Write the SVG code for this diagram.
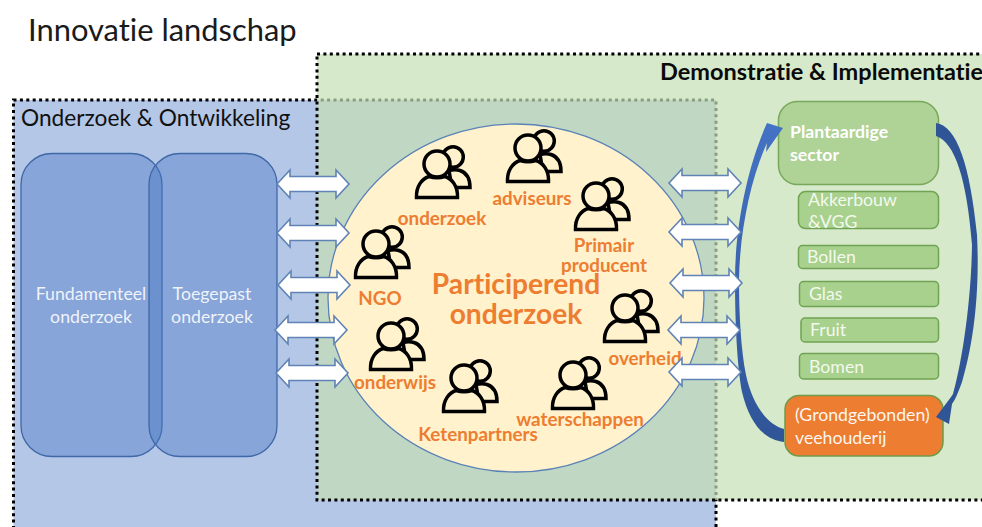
<svg xmlns="http://www.w3.org/2000/svg" xmlns:xlink="http://www.w3.org/1999/xlink" width="982" height="527" viewBox="0 0 982 527">
<style>
text{font-family:Lato,"Open Sans","Liberation Sans",sans-serif;font-variant-ligatures:none}
.zone{stroke:#000;stroke-width:3;stroke-dasharray:3 3.4}
.col{fill:#4472c4;fill-opacity:.4;stroke:#3f68a8;stroke-width:1.3}
.g{fill:#a9d18e;stroke:#70a352;stroke-width:1.5}
.w{fill:#fff;fill-opacity:.88;font-size:17.700px}
.wb{fill:#fff;font-size:17.700px;font-weight:700}
.o{fill:#ed7d31;font-size:18.800px;font-weight:700;text-anchor:middle}
.ic{fill:#fff2cc;stroke:#000;stroke-width:3.500;stroke-linejoin:miter}
.dbl{fill:#fff;stroke:#5f83b5;stroke-width:1.600;stroke-linejoin:miter}
</style>
<defs>
<linearGradient id="lg" gradientUnits="userSpaceOnUse" x1="0" y1="128" x2="0" y2="440"><stop offset="0" stop-color="#4472c4"/><stop offset="1" stop-color="#2f5597"/></linearGradient>
<path id="da" d="M0,0 L13,-14 V-7.500 H59 V-14 L72,0 L59,14 V7.500 H13 V14 Z"/>
<g id="ppl">
<circle cx="16" cy="-7" r="10.300"/>
<path d="M12,6.500 C16,5.500 20,5.500 23,6.500 C29,8.500 33,14 33,23.500 H15 Z"/>
<circle cx="0" cy="0" r="13"/>
<path d="M-20.500,33.500 C-21,22 -15,15 -8,12.500 C-3,14 3,14 8,12.500 C15,15 21,22 20.500,33.500 Z"/>
</g>
</defs>
<rect width="982" height="527" fill="#fff"/>
<text x="28" y="41" fill="#1a1a1a" style="font-size:30.900px">Innovatie landschap</text>
<g id="zone-onderzoek">
<rect class="zone" x="13.500" y="100" width="702.500" height="440" fill="#b4c7e7"/>
<text x="21" y="126" fill="#111" style="font-size:22.700px">Onderzoek &amp; Ontwikkeling</text>
</g>
<g id="zone-demonstratie">
<rect class="zone" x="317" y="54" width="680" height="446" fill="#c5e0b4" fill-opacity=".7"/>
<text x="660" y="80" fill="#0a0a0a" style="font-size:23.500px;font-weight:700">Demonstratie &amp; Implementatie</text>
</g>
<g id="fundamenteel">
<rect class="col" x="21" y="153.500" width="141" height="303" rx="31"/>
<text class="w" x="91" y="300" text-anchor="middle">Fundamenteel</text>
<text class="w" x="91" y="323" text-anchor="middle">onderzoek</text>
</g>
<g id="toegepast">
<rect class="col" x="149" y="153.500" width="128" height="303" rx="31"/>
<text class="w" x="212" y="300" text-anchor="middle">Toegepast</text>
<text class="w" x="212" y="323" text-anchor="middle">onderzoek</text>
</g>
<g id="participerend">
<ellipse cx="516" cy="298" rx="188" ry="174" fill="#fff2cc" stroke="#5b82b8" stroke-width="1.300"/>
<text x="516" y="294" style="font-size:28.200px;font-weight:700;fill:#ed7d31;text-anchor:middle">Participerend</text>
<text x="516" y="324" style="font-size:28.200px;font-weight:700;fill:#ed7d31;text-anchor:middle">onderzoek</text>
</g>
<g id="actor-onderzoek"><use xlink:href="#ppl" class="ic" x="437" y="164"/><text class="o" x="442" y="225">onderzoek</text></g>
<g id="actor-adviseurs"><use xlink:href="#ppl" class="ic" x="528" y="148"/><text class="o" x="532" y="205">adviseurs</text></g>
<g id="actor-primair"><use xlink:href="#ppl" class="ic" x="596" y="196"/><text class="o" x="604" y="252">Primair</text><text class="o" x="604" y="272">producent</text></g>
<g id="actor-ngo"><use xlink:href="#ppl" class="ic" x="376" y="244"/><text class="o" x="380" y="305">NGO</text></g>
<g id="actor-overheid"><use xlink:href="#ppl" class="ic" x="625" y="308"/><text class="o" x="645" y="365">overheid</text></g>
<g id="actor-onderwijs"><use xlink:href="#ppl" class="ic" x="391" y="336"/><text class="o" x="395" y="389">onderwijs</text></g>
<g id="actor-ketenpartners"><use xlink:href="#ppl" class="ic" x="464" y="378"/><text class="o" x="478" y="441">Ketenpartners</text></g>
<g id="actor-waterschappen"><use xlink:href="#ppl" class="ic" x="573" y="375"/><text class="o" x="580" y="426">waterschappen</text></g>
<g id="plantaardig">
<rect x="778.500" y="101.500" width="160" height="83" rx="19" fill="#afd296" stroke="#78a85a" stroke-width="1.500"/>
<text class="wb" x="790" y="138">Plantaardige</text><text class="wb" x="790" y="161">sector</text>
</g>
<g id="akkerbouw"><rect class="g" x="798.500" y="191.500" width="140" height="37" rx="7"/><text class="w" x="808" y="206">Akkerbouw</text><text class="w" x="808" y="228">&amp;VGG</text></g>
<g id="bollen"><rect class="g" x="798.500" y="245.500" width="140" height="23" rx="4"/><text class="w" x="807" y="263">Bollen</text></g>
<g id="glas"><rect class="g" x="799.500" y="281.500" width="139" height="25" rx="4"/><text class="w" x="809" y="300">Glas</text></g>
<g id="fruit"><rect class="g" x="801" y="318" width="137.500" height="24" rx="4"/><text class="w" x="810" y="336">Fruit</text></g>
<g id="bomen"><rect class="g" x="799.500" y="353.500" width="139" height="25.500" rx="4"/><text class="w" x="809" y="373">Bomen</text></g>
<g id="veehouderij">
<rect x="785" y="395.500" width="158" height="60.500" rx="14" fill="#ed7d31" stroke="#6e9b4a" stroke-width="1.500"/>
<text class="w" x="795" y="421" style="fill-opacity:.95">(Grondgebonden)</text><text class="w" x="795" y="444" style="fill-opacity:.95">veehouderij</text>
</g>
<g id="connectors">
<path fill="url(#lg)" d="M784,442 C765,440 750,425 742,392 C737,365 735,320 735,280 C735,225 748,165 767,123 L783,128 L766,152 L767,143 C750,180 739.500,235 739,280 C739,315 741,350 746,375 C752,403 766,424 784,429 Z"/>
<path fill="#2f5597" d="M936,123 C957,126 970,165 977,235 C980,295 973,345 962,382 C958,393 955,400 952,404 L949,424 L936,417 L951,397 L953,394 C960,370 971,310 972,245 C967,180 955,142 936,136 Z"/>
<use xlink:href="#da" class="dbl" x="277" y="184"/>
<use xlink:href="#da" class="dbl" x="277" y="233"/>
<use xlink:href="#da" class="dbl" x="278" y="285"/>
<use xlink:href="#da" class="dbl" x="275" y="330"/>
<use xlink:href="#da" class="dbl" x="276" y="373"/>
<use xlink:href="#da" class="dbl" x="669" y="183"/>
<use xlink:href="#da" class="dbl" x="669" y="232"/>
<use xlink:href="#da" class="dbl" x="670" y="283"/>
<use xlink:href="#da" class="dbl" x="668" y="330"/>
<use xlink:href="#da" class="dbl" x="669" y="372"/>
</g>
</svg>
